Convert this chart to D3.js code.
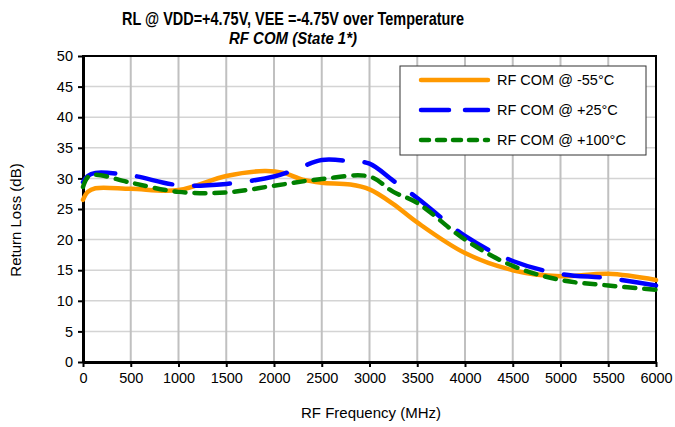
<!DOCTYPE html>
<html>
<head>
<meta charset="utf-8">
<script src="https://cdn.jsdelivr.net/npm/d3@7"></script>
<style>
  body { margin: 0; background: #fff; }
  text { font-family: Arial, "Liberation Sans", sans-serif; fill: #000; }
</style>
</head>
<body>
<svg id="svg" width="675" height="427"></svg>
<script>
// values (MHz, dB)
var freqCold = [0, 50, 130, 500, 1000, 1500, 1900, 2100, 2300, 2500, 2800, 3000, 3250, 3500, 4000, 4500, 5000, 5500, 6000];
var rlCold   = [26.5, 27.8, 28.4, 28.3, 28.1, 30.4, 31.2, 30.9, 29.8, 29.3, 29.0, 28.2, 25.8, 22.8, 17.8, 15.0, 14.0, 14.4, 13.4];

var freqRoom = [0, 50, 130, 500, 1000, 1500, 2000, 2200, 2500, 2800, 3000, 3250, 3500, 4000, 4500, 5000, 5500, 6000];
var rlRoom   = [29.4, 30.4, 30.9, 30.5, 28.9, 29.1, 30.3, 31.3, 33.0, 32.8, 32.4, 29.6, 26.8, 20.6, 16.5, 14.4, 13.7, 12.5];

var freqHot = [0, 50, 130, 500, 1000, 1500, 2000, 2500, 3000, 3250, 3500, 4000, 4500, 5000, 5500, 6000];
var rlHot   = [28.6, 30.2, 30.6, 29.3, 27.8, 27.7, 28.8, 29.9, 30.3, 27.8, 26.0, 20.0, 15.7, 13.4, 12.5, 11.8];

var seriesNames = ["RF COM @ -55°C", "RF COM @ +25°C", "RF COM @ +100°C"];
var xTicks = d3.range(0, 6001, 500);
var yTicks = d3.range(0, 51, 5);

var colors = ["#ff9900", "#0000ff", "#008000"];
var dashes = [null, "36,22", "11,9"];

var svg = d3.select("#svg");
var g = svg.append("g");

var x = d3.scaleLinear().domain([0, 6000]).range([83, 656]);
var y = d3.scaleLinear().domain([0, 50]).range([362, 56]);

// grid
g.selectAll(".hgrid").data(yTicks).enter().append("line")
    .attr("x1", x(0)).attr("x2", x(6000))
    .attr("y1", d => y(d)).attr("y2", d => y(d))
    .attr("stroke", "#d4d4d4").attr("stroke-width", 1.5);
g.selectAll(".vgrid").data(xTicks).enter().append("line")
    .attr("x1", d => x(d)).attr("x2", d => x(d))
    .attr("y1", y(0)).attr("y2", y(50))
    .attr("stroke", "#c0c0c0").attr("stroke-width", 2);

// frame
g.append("rect")
    .attr("x", x(0)).attr("y", y(50))
    .attr("width", x(6000) - x(0)).attr("height", y(0) - y(50))
    .attr("fill", "none").attr("stroke", "#000").attr("stroke-width", 2);

// axes
var xAxis = d3.axisBottom(x).tickValues(xTicks).tickFormat(d3.format("d"))
    .tickSize(5).tickSizeOuter(0).tickPadding(6);
var yAxis = d3.axisLeft(y).tickValues(yTicks).tickFormat(d3.format("d"))
    .tickSize(5).tickSizeOuter(0).tickPadding(5);

var gx = g.append("g").attr("transform", "translate(0," + y(0) + ")").call(xAxis);
var gy = g.append("g").attr("transform", "translate(" + x(0) + ",0)").call(yAxis);
[gx, gy].forEach(function(a) {
    a.select(".domain").attr("stroke", "#000").attr("stroke-width", 3);
    a.selectAll(".tick line").attr("stroke", "#000").attr("stroke-width", 2);
    a.selectAll(".tick text").style("font-size", "14.5px").attr("fill", "#000")
        .style("font-family", "Arial, 'Liberation Sans', sans-serif");
});

// series
var series = [
    freqCold.map((f, i) => [f, rlCold[i]]),
    freqRoom.map((f, i) => [f, rlRoom[i]]),
    freqHot.map((f, i) => [f, rlHot[i]])
];

var line = d3.line()
    .x(d => x(d[0]))
    .y(d => y(d[1]))
    .curve(d3.curveCatmullRom.alpha(0.5));

series.forEach(function(s, i) {
    g.append("path")
        .attr("d", line(s))
        .attr("fill", "none")
        .attr("stroke", colors[i])
        .attr("stroke-width", 4.5)
        .attr("stroke-linecap", "round")
        .attr("stroke-linejoin", "round")
        .attr("stroke-dasharray", dashes[i]);
});

// legend
var legend = g.append("g");
legend.append("rect")
    .attr("x", 400).attr("y", 66)
    .attr("width", 246).attr("height", 89)
    .attr("fill", "#fff").attr("stroke", "#333").attr("stroke-width", 1);

var legendDash = [null, "28,16", "8,8"];
seriesNames.forEach(function(name, i) {
    var ly = 80 + i * 30;
    legend.append("line")
        .attr("x1", 421).attr("x2", 488)
        .attr("y1", ly).attr("y2", ly)
        .attr("stroke", colors[i]).attr("stroke-width", 4.5)
        .attr("stroke-linecap", "round")
        .attr("stroke-dasharray", legendDash[i]);
    legend.append("text")
        .attr("x", 497).attr("y", ly + 5)
        .style("font-size", "14.5px")
        .text(name);
});

// titles
svg.append("text")
    .attr("x", 293).attr("y", 25)
    .attr("text-anchor", "middle")
    .style("font-size", "19px").style("font-weight", "bold")
    .attr("textLength", 342).attr("lengthAdjust", "spacingAndGlyphs")
    .text("RL @ VDD=+4.75V, VEE =-4.75V over Temperature");

svg.append("text")
    .attr("x", 293).attr("y", 44)
    .attr("text-anchor", "middle")
    .style("font-size", "16px").style("font-weight", "bold").style("font-style", "italic")
    .attr("textLength", 128).attr("lengthAdjust", "spacingAndGlyphs")
    .text("RF COM (State 1*)");

svg.append("text")
    .attr("x", 371).attr("y", 418)
    .attr("text-anchor", "middle")
    .style("font-size", "15px")
    .text("RF Frequency (MHz)");

svg.append("text")
    .attr("transform", "translate(21,220) rotate(-90)")
    .attr("text-anchor", "middle")
    .style("font-size", "15px")
    .text("Return Loss (dB)");
</script>
</body>
</html>
